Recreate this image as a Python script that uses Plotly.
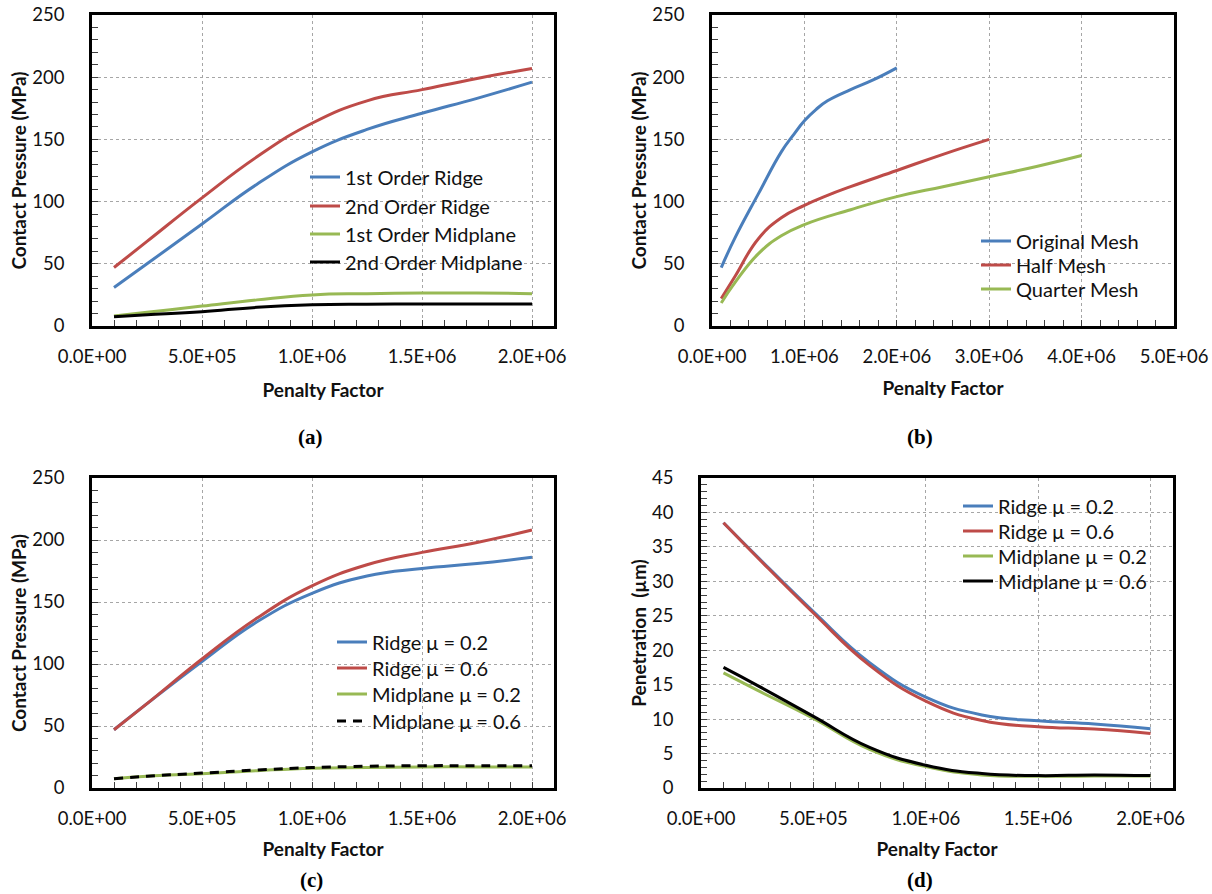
import plotly.graph_objects as go

W, H = 1212, 894

# ---------------- data ----------------
x_std = [1e5, 2.5e5, 5e5, 7.5e5, 1e6, 1.25e6, 1.5e6, 1.75e6, 2e6]

# (a) Contact pressure vs penalty factor, element order
a_first_ridge = [31, 50, 82, 114, 140, 158, 171, 183, 196]
a_second_ridge = [47, 68, 103, 136, 163, 181, 190, 199, 207]
a_first_mid = [8, 11, 16, 21, 25, 26, 26.5, 26.5, 26]
a_second_mid = [7.5, 9, 11.5, 15, 17, 17.5, 17.7, 17.7, 17.7]

# (b) mesh density
b_x_original = [1e5, 2.5e5, 5e5, 7.5e5, 8.75e5, 1e6, 1.125e6, 1.25e6, 1.5e6, 1.75e6, 2e6]
b_original = [47, 71, 106, 140, 153, 165, 174, 181, 190, 198, 207.5]
b_x_half = [1e5, 2.5e5, 5e5, 7.5e5, 1e6, 1.25e6, 1.5e6, 2e6, 2.5e6, 3e6]
b_half = [22, 40, 70, 87, 97, 105, 112, 125, 138, 150]
b_x_quarter = [1e5, 2.5e5, 5e5, 7.5e5, 1e6, 1.5e6, 2e6, 2.5e6, 3e6, 3.5e6, 4e6]
b_quarter = [18.5, 35, 58, 72.5, 81.5, 93.5, 104, 112, 120, 128, 137]

# (c) friction coefficient, contact pressure
c_ridge_02 = [47, 68, 102, 134, 157, 171, 177, 181, 186]
c_ridge_06 = [47, 68, 104, 137, 163, 180, 190, 198, 208]
c_mid_02 = [7.5, 9.5, 11.5, 14, 16, 16.5, 17, 17, 17]
c_mid_06 = [7.5, 9.5, 12, 14.5, 16.5, 17.5, 18, 18, 18]

# (d) penetration
d_ridge_02 = [38.5, 33.6, 25.6, 18.2, 13.2, 10.6, 9.75, 9.3, 8.6]
d_ridge_06 = [38.5, 33.5, 25.4, 17.8, 12.6, 9.8, 8.9, 8.55, 7.9]
d_mid_02 = [16.7, 14.2, 10.1, 5.6, 3.1, 1.9, 1.7, 1.75, 1.75]
d_mid_06 = [17.5, 14.9, 10.4, 5.9, 3.3, 2.1, 1.8, 1.9, 1.8]

# tick labels
tickvals_2e6 = [0, 5e5, 1e6, 1.5e6, 2e6]
ticktext_2e6 = ["0.0E+00", "5.0E+05", "1.0E+06", "1.5E+06", "2.0E+06"]
tickvals_5e6 = [0, 1e6, 2e6, 3e6, 4e6, 5e6]
ticktext_5e6 = ["0.0E+00", "1.0E+06", "2.0E+06", "3.0E+06", "4.0E+06", "5.0E+06"]

# ---------------- style ----------------
BLUE = "#4A7EBB"
RED = "#BE4B48"
GREEN = "#98B954"
BLACK = "#000000"
FONT = "Lato"
TXT = "#111111"
LW = 3


def px_x(p):
    return p / W


def px_y(p):
    return 1 - p / H


fig = go.Figure()
legend_layouts = {}
legend_count = [0]


def add(x, y, name, color, xa, ya, text_x, text_y, dash="solid"):
    legend_count[0] += 1
    n = legend_count[0]
    lname = "legend" if n == 1 else "legend%d" % n
    fig.add_trace(go.Scatter(
        x=x, y=y, name=name, mode="lines",
        line=dict(color=color, width=LW, shape="spline", smoothing=1.3, dash=dash),
        xaxis=xa, yaxis=ya, legend=lname,
    ))
    legend_layouts[lname] = dict(
        x=px_x(text_x - 40), y=px_y(text_y), xanchor="left", yanchor="middle",
        bgcolor="rgba(0,0,0,0)", borderwidth=0,
        font=dict(family=FONT, size=20, color=TXT))


add(x_std, a_first_ridge, "1st Order Ridge", BLUE, "x", "y", 345, 177)
add(x_std, a_second_ridge, "2nd Order Ridge", RED, "x", "y", 345, 206)
add(x_std, a_first_mid, "1st Order Midplane", GREEN, "x", "y", 345, 234)
add(x_std, a_second_mid, "2nd Order Midplane", BLACK, "x", "y", 345, 262)

add(b_x_original, b_original, "Original Mesh", BLUE, "x2", "y2", 1016, 241)
add(b_x_half, b_half, "Half Mesh", RED, "x2", "y2", 1016, 265)
add(b_x_quarter, b_quarter, "Quarter Mesh", GREEN, "x2", "y2", 1016, 289)

add(x_std, c_ridge_02, "Ridge μ = 0.2", BLUE, "x3", "y3", 372, 642)
add(x_std, c_ridge_06, "Ridge μ = 0.6", RED, "x3", "y3", 372, 668)
add(x_std, c_mid_02, "Midplane μ = 0.2", GREEN, "x3", "y3", 372, 694)
add(x_std, c_mid_06, "Midplane μ = 0.6", BLACK, "x3", "y3", 372, 721, dash="9px,7px")

add(x_std, d_ridge_02, "Ridge μ = 0.2", BLUE, "x4", "y4", 998, 506)
add(x_std, d_ridge_06, "Ridge μ = 0.6", RED, "x4", "y4", 998, 531)
add(x_std, d_mid_02, "Midplane μ = 0.2", GREEN, "x4", "y4", 998, 556)
add(x_std, d_mid_06, "Midplane μ = 0.6", BLACK, "x4", "y4", 998, 581)

GRID = dict(showgrid=True, gridcolor="#A6A6A6", gridwidth=1, griddash="3px,3px")
FRAME = dict(showline=True, linecolor="black", linewidth=2.5, mirror=True,
             zeroline=False, ticks="inside", ticklen=6, tickcolor="#404040",
             tickwidth=1, tickfont=dict(family=FONT, size=18.5, color=TXT))


def xaxis(domain, rng, tv, tt, minor_dt, anchor, standoff):
    return dict(domain=domain, range=rng, tickmode="array", tickvals=tv, ticktext=tt,
                minor=dict(dtick=minor_dt, tick0=0, ticks="inside", ticklen=6,
                           tickcolor="#404040", showgrid=False),
                anchor=anchor, ticklabelstandoff=12,
                title=dict(text="<b>Penalty Factor</b>", standoff=standoff,
                           font=dict(family=FONT, size=19, color=TXT)),
                **GRID, **FRAME)


def yaxis(domain, rng, dt, minor_dt, anchor, title):
    return dict(domain=domain, range=rng, dtick=dt, tick0=0,
                minor=dict(dtick=minor_dt, tick0=0, ticks="inside", ticklen=6,
                           tickcolor="#404040", showgrid=False),
                anchor=anchor, ticklabelstandoff=21,
                title=dict(text="<b>" + title + "</b>", standoff=1,
                           font=dict(family=FONT, size=19, color=TXT)),
                **GRID, **FRAME)


top_y = [px_y(326), px_y(15)]
bot_y = [px_y(788), px_y(478)]

fig.update_layout(
    template="none",
    width=W, height=H,
    margin=dict(l=0, r=0, t=0, b=0),
    paper_bgcolor="white", plot_bgcolor="white",
    showlegend=True,
    xaxis=xaxis([px_x(92), px_x(554)], [0, 2.1e6], tickvals_2e6, ticktext_2e6, 1e5, "y", 18),
    yaxis=yaxis(top_y, [0, 250], 50, 10, "x", "Contact Pressure (MPa)"),
    xaxis2=xaxis([px_x(712), px_x(1174)], [0, 5e6], tickvals_5e6, ticktext_5e6, 2e5, "y2", 16),
    yaxis2=yaxis(top_y, [0, 250], 50, 10, "x2", "Contact Pressure (MPa)"),
    xaxis3=xaxis([px_x(92), px_x(554)], [0, 2.1e6], tickvals_2e6, ticktext_2e6, 1e5, "y3", 15),
    yaxis3=yaxis(bot_y, [0, 250], 50, 10, "x3", "Contact Pressure (MPa)"),
    xaxis4=xaxis([px_x(701), px_x(1173)], [0, 2.1e6], tickvals_2e6, ticktext_2e6, 1e5, "y4", 15),
    yaxis4=yaxis(bot_y, [0, 45], 5, 1, "x4", "Penetration \u00a0(µm)"),
    **legend_layouts,
)

# white legend backgrounds (above gridlines, below the curves)
legend_boxes = [(304, 160, 538, 277), (975, 228, 1158, 303),
                (321, 630, 535, 735), (957, 493, 1157, 597)]
for x0, y0, x1, y1 in legend_boxes:
    fig.add_shape(type="rect", xref="paper", yref="paper",
                  x0=px_x(x0), x1=px_x(x1), y0=px_y(y1), y1=px_y(y0),
                  fillcolor="white", line=dict(width=0), layer="between")

labels = [("(a)", 310, 437), ("(b)", 920, 437), ("(c)", 311, 880), ("(d)", 920, 880)]
for txt, lx, ly in labels:
    fig.add_annotation(text="<b>" + txt + "</b>", x=px_x(lx), y=px_y(ly),
                       xref="paper", yref="paper", showarrow=False,
                       xanchor="center", yanchor="middle",
                       font=dict(family="Liberation Serif", size=21, color="black"))

fig.write_html("out.html", config={"displayModeBar": False},
               post_script="document.body.style.margin='0px';document.body.style.overflow='hidden';")
